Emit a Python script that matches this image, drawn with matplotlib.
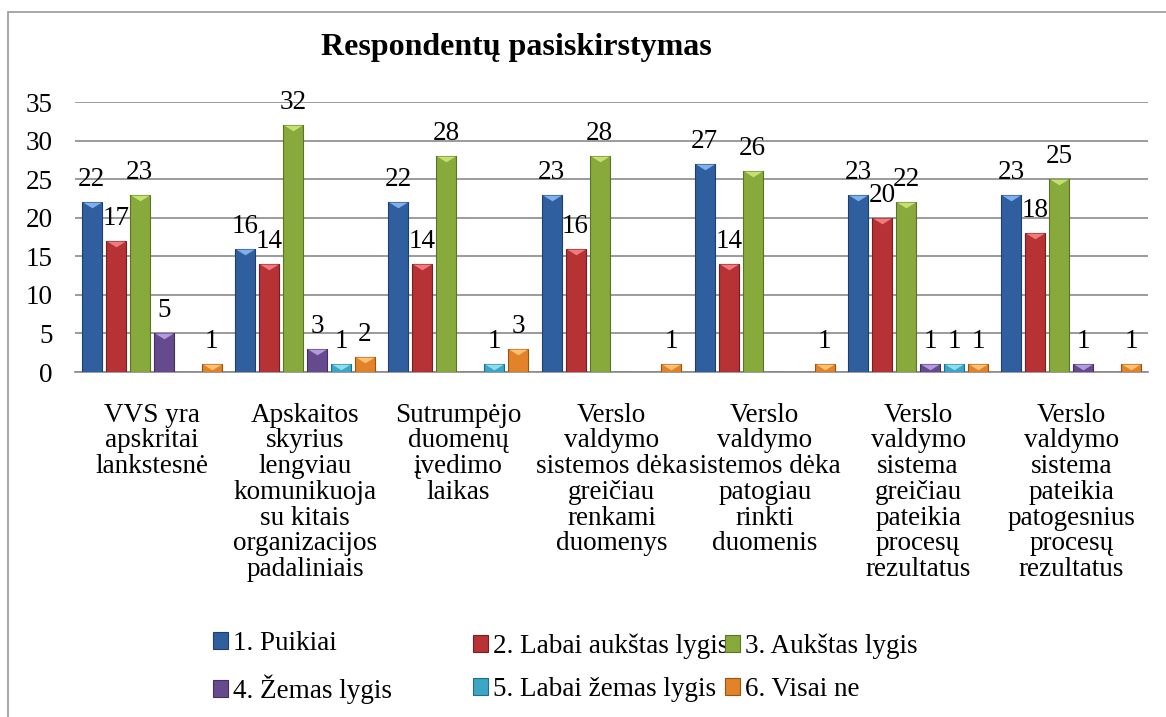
import numpy as np
import matplotlib
matplotlib.use("Agg")
import matplotlib.pyplot as plt
from matplotlib.patches import Rectangle

plt.rcParams['font.family'] = ['Liberation Serif', 'DejaVu Serif']

# ---- data ----
categories = [
    "VVS yra\napskritai\nlankstesnė",
    "Apskaitos\nskyrius\nlengviau\nkomunikuoja\nsu kitais\norganizacijos\npadaliniais",
    "Sutrumpėjo\nduomenų\nįvedimo\nlaikas",
    "Verslo\nvaldymo\nsistemos dėka\ngreičiau\nrenkami\nduomenys",
    "Verslo\nvaldymo\nsistemos dėka\npatogiau\nrinkti\nduomenis",
    "Verslo\nvaldymo\nsistema\ngreičiau\npateikia\nprocesų\nrezultatus",
    "Verslo\nvaldymo\nsistema\npateikia\npatogesnius\nprocesų\nrezultatus",
]
series_names = ["1. Puikiai", "2. Labai aukštas lygis", "3. Aukštas lygis",
                "4. Žemas lygis", "5. Labai žemas lygis", "6. Visai ne"]
puikiai = [22, 16, 22, 23, 27, 23, 23]
labai_aukstas = [17, 14, 14, 16, 14, 20, 18]
aukstas = [23, 32, 28, 28, 26, 22, 25]
zemas = [5, 3, 0, 0, 0, 1, 1]
labai_zemas = [0, 1, 1, 0, 0, 1, 0]
visai_ne = [1, 2, 3, 1, 1, 1, 1]
series_values = [puikiai, labai_aukstas, aukstas, zemas, labai_zemas, visai_ne]
yticks = [0, 5, 10, 15, 20, 25, 30, 35]
title = "Respondentų pasiskirstymas"

# ---- styles ----
face = ['#2F5F9E', '#B63235', '#88A93C', '#664A8E', '#3BA6C6', '#E2832A']
edge = ['#1F3F6E', '#7A1E20', '#5A7424', '#43305E', '#226E85', '#9A5412']
tri = ['#7FB0EE', '#F07A7C', '#C5E070', '#B39AE0', '#8DDDF0', '#FFC070']
FS = 19.5

W, H = 1166, 717
fig = plt.figure(figsize=(W / 100, H / 100), dpi=100)
fig.patch.set_facecolor('white')

ax_left, ax_right = 75 / W, 1148 / W
ax_top, ax_bot = 1 - 102 / H, 1 - 372 / H
ax = fig.add_axes([ax_left, ax_bot, ax_right - ax_left, ax_top - ax_bot])

n_cat = len(categories)
n_ser = len(series_values)
x = np.arange(n_cat)
slot = 24 / 153.3
bw = 20 / 153.3
tri_marker = [(-1, 0), (1, 0), (0, -0.62)]

bars = []
for i, vals in enumerate(series_values):
    pos = x + (i - (n_ser - 1) / 2) * slot
    b = ax.bar(pos, vals, width=bw, color=face[i], edgecolor=edge[i],
               linewidth=0.8, label=series_names[i], zorder=3)
    bars.append(b)
    for p, v in zip(pos, vals):
        if v > 0:
            ax.plot([p], [v], marker=tri_marker, markersize=13.5,
                    color=tri[i], markeredgewidth=0, zorder=4)
            ax.annotate(str(v), (p, v), xytext=(0, 11.5), textcoords='offset points',
                        ha='center', va='baseline', fontsize=FS, color='black',
                        zorder=5)

ax.set_xlim(-0.5, n_cat - 0.5)
ax.set_ylim(0, 35)
ax.set_yticks(yticks)
ax.set_yticklabels([str(t) for t in yticks], fontsize=FS)
ax.set_xticks(x)
ax.set_xticklabels(categories, fontsize=FS, linespacing=1.04)
ax.tick_params(axis='y', length=0, pad=16)
ax.tick_params(axis='x', length=0, pad=22)
ax.yaxis.grid(True, color='#8A8A8A', linewidth=1.2, zorder=0)
ax.set_axisbelow(True)
for s in ['left', 'right', 'top']:
    ax.spines[s].set_visible(False)
ax.spines['bottom'].set_color('#8A8A8A')
ax.spines['bottom'].set_linewidth(1.2)

# title
fig.text(516 / W, 1 - 47 / H, title, ha='center', va='center',
         fontsize=23, fontweight='bold')

# legends: three columns
cols = [(213, [0, 3]), (473, [1, 4]), (725, [2, 5])]
for xpx, idx in cols:
    fig.legend([bars[j] for j in idx], [series_names[j] for j in idx],
               loc='center left', bbox_to_anchor=(xpx / W, 1 - 667.5 / H),
               frameon=False, fontsize=FS, borderpad=0, borderaxespad=0,
               handlelength=0.56, handleheight=0.6, handletextpad=0.18,
               labelspacing=0.67)

# outer border (left and top visible)
fig.add_artist(Rectangle((8 / W, -0.05), 1.2, 1.05 - 12 / H, transform=fig.transFigure,
                         fill=False, edgecolor='#9A9A9A', linewidth=1.2))

fig.savefig('out.png', dpi=100)
